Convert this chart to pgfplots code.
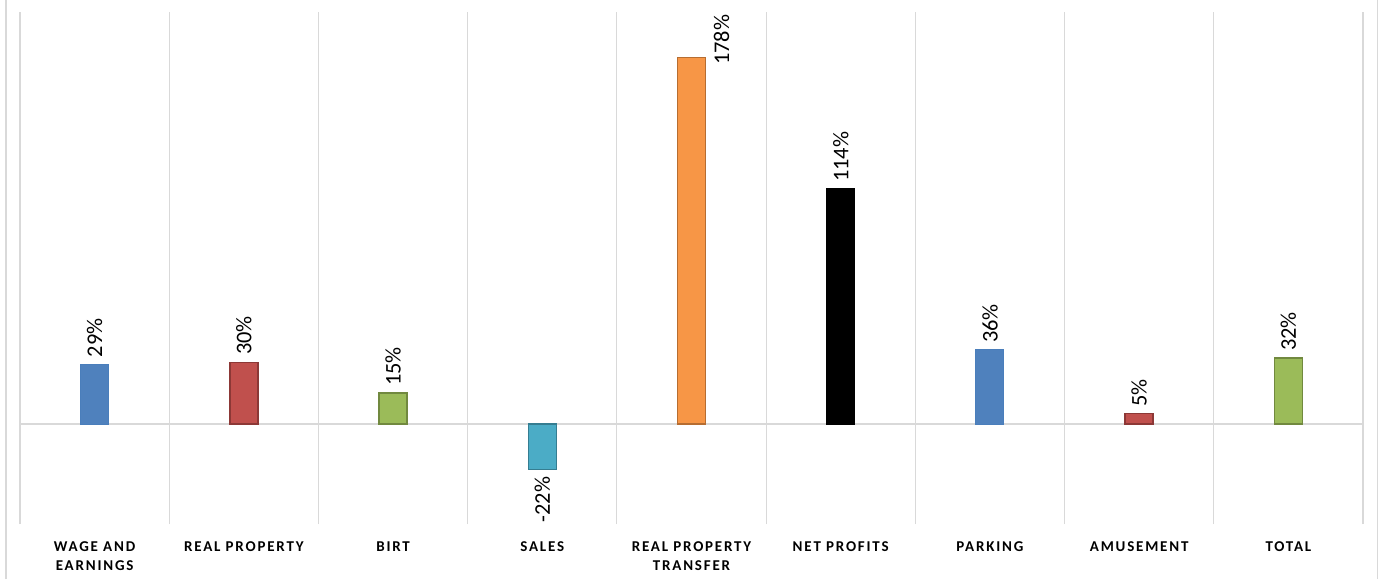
\documentclass[border=0pt]{standalone}
\usepackage{pgfplots}
\pgfplotsset{compat=1.18}
\usepackage{fontspec}
\setmainfont{Carlito}
\definecolor{gridgray}{HTML}{D9D9D9}
\definecolor{cblue}{HTML}{4F81BD}\definecolor{cblueb}{HTML}{4A7EBB}
\definecolor{cred}{HTML}{C0504D}\definecolor{credb}{HTML}{8C3836}
\definecolor{cgreen}{HTML}{9BBB59}\definecolor{cgreenb}{HTML}{71893F}
\definecolor{cteal}{HTML}{4BACC6}\definecolor{ctealb}{HTML}{357D91}
\definecolor{corange}{HTML}{F79646}\definecolor{corangeb}{HTML}{B66D31}
\begin{document}
\begin{tikzpicture}
\useasboundingbox (0,0) rectangle (690pt,289.5pt);
\draw[gridgray, line width=0.6pt] (3pt,0) -- (3pt,289.5pt);
\draw[gridgray, line width=0.6pt] (688.8pt,0) -- (688.8pt,289.5pt);
\begin{axis}[
  at={(10pt,27.5pt)}, anchor=south west,
  width=671.5pt, height=256pt, scale only axis,
  xmin=-0.5, xmax=8.5, ymin=-48.5, ymax=200,
  axis line style={draw=none},
  ytick={0}, yticklabels={}, ymajorgrids,
  major grid style={gridgray, line width=0.6pt},
  xtick={0,...,8},
  xticklabels={{WAGE AND\\EARNINGS},{REAL PROPERTY},{BIRT},{SALES},{REAL PROPERTY\\TRANSFER},{NET PROFITS},{PARKING},{AMUSEMENT},{TOTAL}},
  minor xtick={-0.5,0.5,...,8.5}, xminorgrids,
  minor grid style={gridgray, line width=0.6pt},
  major tick length=0pt, minor tick length=0pt,
  xticklabel style={font=\addfontfeatures{LetterSpace=12}\bfseries\fontsize{7.5}{9.5}\selectfont, align=center, inner sep=0pt, anchor=north, yshift=-8.5pt},
  ybar, bar width=14pt, bar shift=0pt,
  point meta=explicit symbolic,
  nodes near coords style={font=\fontsize{11.2}{13}\selectfont, rotate=90, anchor=west},
  clip=false,
]
\addplot[fill=cblue, draw=cblueb, line width=0.5pt, nodes near coords] coordinates {(0,29) [29\%]};
\addplot[fill=cred, draw=credb, line width=0.7pt, nodes near coords] coordinates {(1,30) [30\%]};
\addplot[fill=cgreen, draw=cgreenb, line width=0.7pt, nodes near coords] coordinates {(2,15) [15\%]};
\addplot[fill=cteal, draw=ctealb, line width=0.7pt, nodes near coords, nodes near coords style={anchor=east}] coordinates {(3,-22) [-22\%]};
\addplot[fill=corange, draw=corangeb, line width=0.7pt] coordinates {(4,178) [178\%]};
\addplot[fill=black, draw=black, line width=0.7pt, nodes near coords] coordinates {(5,114) [114\%]};
\addplot[fill=cblue, draw=cblueb, line width=0.5pt, nodes near coords] coordinates {(6,36) [36\%]};
\addplot[fill=cred, draw=credb, line width=0.7pt, nodes near coords] coordinates {(7,5) [5\%]};
\addplot[fill=cgreen, draw=cgreenb, line width=0.7pt, nodes near coords] coordinates {(8,32) [32\%]};
\node[font=\fontsize{11.2}{13}\selectfont, rotate=90, anchor=north east, inner sep=0pt] at ([xshift=11pt,yshift=21.5pt]axis cs:4,178) {178\%};
\end{axis}
\end{tikzpicture}
\end{document}
